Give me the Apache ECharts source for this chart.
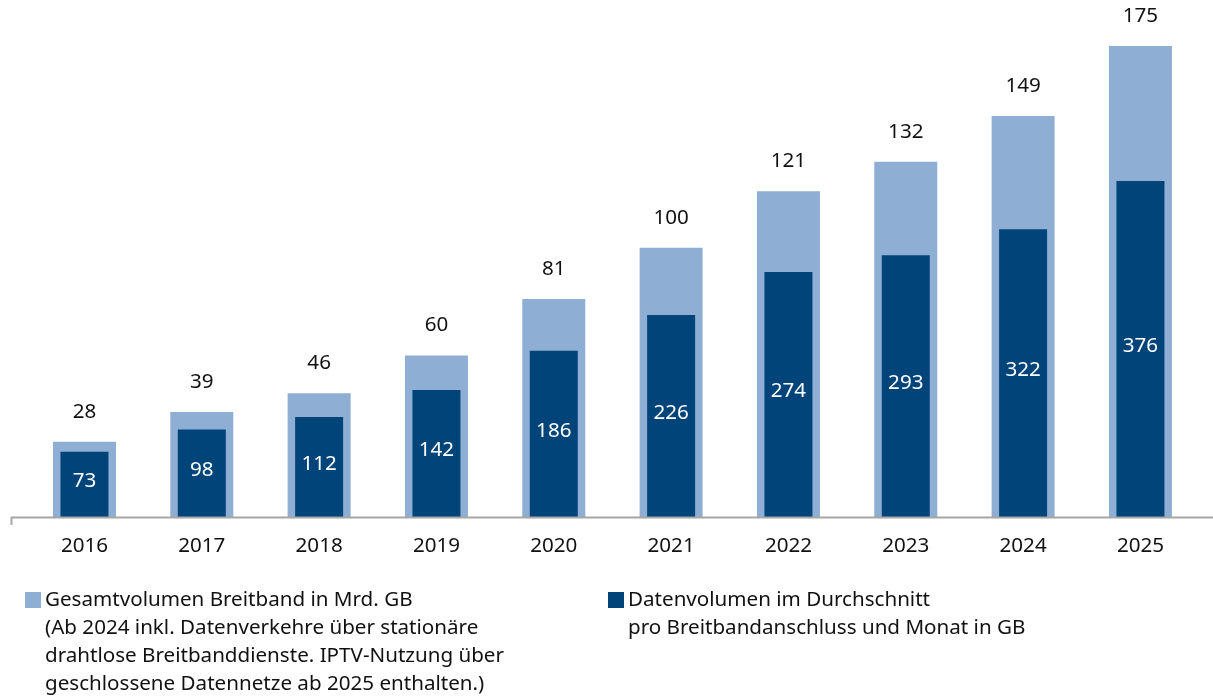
<!DOCTYPE html>
<html>
<head>
<meta charset="utf-8">
<script src="https://cdn.jsdelivr.net/npm/echarts@6/dist/echarts.min.js"></script>
<style>
  html, body { margin: 0; padding: 0; background: #fff; }
  #chart { width: 1213px; height: 699px; }
</style>
</head>
<body>
<div id="chart"></div>
<script>
// Years on the category axis
const years = ['2016', '2017', '2018', '2019', '2020', '2021', '2022', '2023', '2024', '2025'];
// Total broadband volume, billion GB
const totalVolume = [28, 39, 46, 60, 81, 100, 121, 132, 149, 175];
// Average volume per broadband connection and month, GB
const avgVolume = [73, 98, 112, 142, 186, 226, 274, 293, 322, 376];

const legendTotal = 'Gesamtvolumen Breitband in Mrd. GB\n(Ab 2024 inkl. Datenverkehre über stationäre\ndrahtlose Breitbanddienste. IPTV-Nutzung über\ngeschlossene Datennetze ab 2025 enthalten.)';
const legendAvg = 'Datenvolumen im Durchschnitt\npro Breitbandanschluss und Monat in GB';

const FONT = 'Noto Sans';
const FS = 20.6;
const LIGHT = '#8FAED4';
const DARK = '#00447A';
const TEXT = '#111111';

const chart = echarts.init(document.getElementById('chart'), null, { renderer: 'canvas' });

const gridLeft = 25.8, gridTop = 46, gridBottomY = 517;
const plotWidth = 1173.3;

chart.setOption({
  backgroundColor: '#fff',
  animation: false,
  grid: { left: gridLeft, top: gridTop, width: plotWidth, height: gridBottomY - gridTop, containLabel: false },
  xAxis: [
    {
      type: 'category', data: years,
      axisLine: { show: false }, axisTick: { show: false },
      axisLabel: { color: TEXT, fontFamily: FONT, fontSize: FS, lineHeight: 22, margin: 18 }
    },
    {
      type: 'category', data: years, show: false
    }
  ],
  yAxis: [
    { type: 'value', min: 0, max: 175, show: false },
    { type: 'value', min: 0, max: 527, show: false }
  ],
  series: [
    {
      name: 'Gesamtvolumen', type: 'bar', xAxisIndex: 0, yAxisIndex: 0,
      data: totalVolume, barWidth: 63,
      itemStyle: { color: LIGHT },
      label: { show: true, position: 'top', distance: 19.5, color: TEXT, fontFamily: FONT, fontSize: FS }
    },
    {
      name: 'Datenvolumen', type: 'bar', xAxisIndex: 1, yAxisIndex: 1,
      data: avgVolume, barWidth: 48,
      itemStyle: { color: DARK },
      label: { show: true, position: 'inside', offset: [0, -3], color: '#fff', fontFamily: FONT, fontSize: FS }
    }
  ],
  graphic: [
    // baseline with end tick
    { type: 'line', shape: { x1: 11, y1: 517.5, x2: 1213, y2: 517.5 }, style: { stroke: '#a6a6a6', lineWidth: 2 }, z: 10 },
    { type: 'line', shape: { x1: 11.5, y1: 517, x2: 11.5, y2: 525 }, style: { stroke: '#a6a6a6', lineWidth: 2 }, z: 10 },
    // legend entries
    { type: 'rect', shape: { x: 25, y: 592, width: 16, height: 16 }, style: { fill: LIGHT } },
    { type: 'text', left: 45, top: 586, style: { text: legendTotal, fill: TEXT, font: FS + 'px "Noto Sans"', lineHeight: 28 } },
    { type: 'rect', shape: { x: 608, y: 592, width: 16, height: 16 }, style: { fill: DARK } },
    { type: 'text', left: 628, top: 586, style: { text: legendAvg, fill: TEXT, font: FS + 'px "Noto Sans"', lineHeight: 28 } }
  ]
});
</script>
</body>
</html>
